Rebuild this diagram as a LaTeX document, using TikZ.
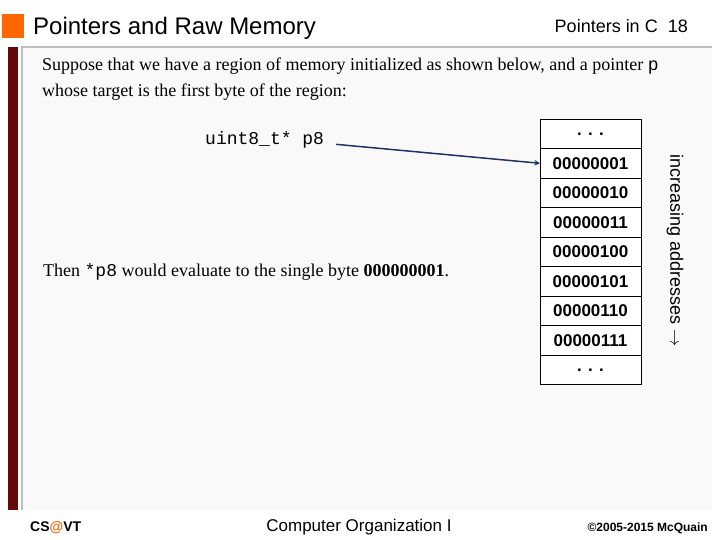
\documentclass[tikz,border=0pt]{standalone}
\usepackage{fontspec}
\setmainfont{Liberation Serif}
\newfontfamily\sans{Liberation Sans}
\newfontfamily\mono{Liberation Mono}
\usetikzlibrary{positioning}
\definecolor{barred}{RGB}{100,10,10}
\definecolor{titleorange}{RGB}{255,102,0}
\definecolor{ptrblue}{RGB}{30,50,100}
\tikzset{
  cell/.style={draw,line width=1pt,minimum width=101pt,minimum height=29.5pt,inner sep=0pt,outer sep=0pt,font=\sans\bfseries\fontsize{17}{17}\selectfont,fill=white},
  footer/.style={font=\sans\fontsize{17}{17}\selectfont}
}
\begin{document}
\begin{tikzpicture}[x=1pt,y=-1pt]
    \useasboundingbox (0,0) rectangle (720,540);
    \fill[white] (0,0) rectangle (720,540);
    \fill[titleorange] (2,14) rectangle (24,38);
    \node[anchor=base west,inner sep=0pt,font=\sans\fontsize{24}{24}\selectfont] (title) at (33,35) {Pointers and Raw Memory};
    \node[anchor=base east,inner sep=0pt,font=\sans\fontsize{18}{18}\selectfont] (slide) at (688,33) {Pointers in C\ \ 18};
    \fill[gray!5] (22,46) rectangle (712,510);
    \draw[gray!50,line width=2pt] (22,510) -- (22,47) -- (712,47);
    \fill[barred] (8,47) rectangle (18,510);
    \node[anchor=north west,inner sep=0pt,align=left,font=\fontsize{18}{26}\selectfont] (intro) at (42,58) {Suppose that we have a region of memory initialized as shown below, and a pointer {\mono p}\\whose target is the first byte of the region:};
    \node[anchor=base west,inner sep=0pt,font=\mono\fontsize{18}{18}\selectfont] (decl) at (205,145) {uint8\_t* p8};
    \node[anchor=base west,inner sep=0pt,font=\fontsize{18}{18}\selectfont] (eval) at (43,276) {Then {\mono *p8} would evaluate to the single byte \textbf{000000001}.};
    % memory cells
    \node[cell] (c0) at (590.5,133.8) {. . .};
    \foreach \b [count=\i, remember=\i as \j (initially 0)] in {00000001,00000010,00000011,00000100,00000101,00000110,00000111}
      \node[cell,below=0pt of c\j] (c\i) {\b};
    \node[cell,below=0pt of c7] (c8) {. . .};
    \node[rotate=-90,inner sep=0pt,font=\sans\fontsize{18}{18}\selectfont] (dir) at (675,251) {increasing addresses $\rightarrow$};
    \draw[->,ptrblue,line width=1.5pt,>=stealth] ([xshift=12pt,yshift=-4pt]decl.east) -- (c1.west);
    % footer
    \node[anchor=base west,inner sep=0pt,footer,font=\sans\bfseries\fontsize{14}{14}\selectfont] (cs) at (30,531) {CS{\color{titleorange}@}VT};
    \node[anchor=base,inner sep=0pt,footer] (course) at (359,531) {Computer Organization I};
    \node[anchor=base east,inner sep=0pt,footer,font=\sans\bfseries\fontsize{12}{12}\selectfont] (copy) at (708,531) {\textcopyright2005-2015 McQuain};
\end{tikzpicture}
\end{document}
